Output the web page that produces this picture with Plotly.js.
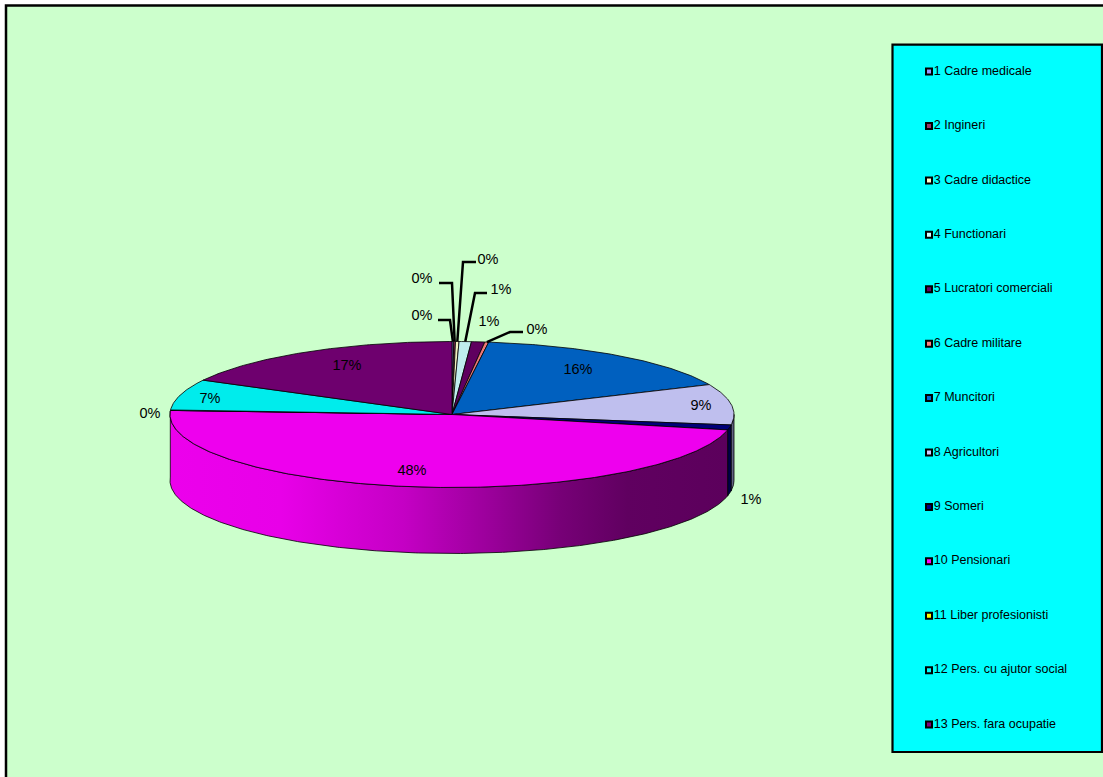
<!DOCTYPE html>
<html>
<head>
<meta charset="utf-8">
<script src="https://cdn.plot.ly/plotly-3.0.1.min.js"></script>
<style>html,body{margin:0;padding:0;background:#fff;overflow:hidden}#chart{width:1103px;height:777px}</style>
</head>
<body>
<div id="chart"></div>
<script>
// ---- data (percent of total) ----
const categories = ["1 Cadre medicale","2 Ingineri","3 Cadre didactice","4 Functionari","5 Lucratori comerciali","6 Cadre militare","7 Muncitori","8 Agricultori","9 Someri","10 Pensionari","11 Liber profesionisti","12 Pers. cu ajutor social","13 Pers. fara ocupatie"];
const values = [0.1,0.1,0.2,0.7,0.76,0.22,16.2,9.0,1.1,47.5,0.1,6.8,17.2];

// ---- styles ----
const topColors = ["#8C8CEB","#8C2E5C","#F0F0BE","#BFEEEE","#5F005F","#EE7878","#0060BF","#BFBFEE","#000078","#EE00EE","#EEEE00","#00ECEC","#6E006E"];
const swatchColors = ["#9999FF","#993366","#FFFFCC","#CCFFFF","#660066","#FF8080","#0066CC","#CCCCFF","#000080","#FF00FF","#FFFF00","#00FFFF","#800080"];
const wallColors = {7:[[0,"#6A6A8A"],[1,"#5A5A7A"]],8:[[0,"#000048"],[1,"#000048"]],
  9:[[0,"#EC00EC"],[0.2,"#E800E8"],[0.42,"#C400C4"],[0.58,"#990099"],[0.7,"#770077"],[0.82,"#600060"],[1,"#5C005C"]]};

// ---- layout geometry (pixels of the 1103x777 page) ----
const W=1103,H=777,cx=452,cy=414.5,rx=282,ry=73,depth=66;
const X=p=>(p-cx)/rx, Y=p=>(cy-p)/ry;
const labelPx=[[422,316],[422,279],[488,260],[501,290],[489,322],[537,330],[578,370],[701,406],[751,500],[412,471],[150,414],[210,399],[347,366]];
const leaderPx={0:[[450,320],[438,320]],1:[[452,283],[439,283]],2:[[463,262],[476,262]],3:[[475,293],[487,293]],5:[[510,332],[523,332]]};

const total=values.reduce((a,b)=>a+b,0);
const traces=[];
function arc(t0,t1){const n=Math.max(2,Math.ceil((t1-t0)/0.01));const a=[];for(let i=0;i<=n;i++)a.push(t0+(t1-t0)*i/n);return a;}
let cum=0;const spans=values.map(v=>{const s=[cum,cum+v/total*2*Math.PI];cum=s[1];return s;});

// side wall
spans.forEach((s,i)=>{
  const t0=Math.max(s[0],Math.PI/2),t1=Math.min(s[1],Math.PI*1.515);
  if(t1<=t0||!wallColors[i])return;
  const a=arc(t0,t1),r=a.slice().reverse();
  const dz=depth/ry;
  traces.push({x:a.map(Math.sin).concat(r.map(Math.sin),[Math.sin(t0)]),
    y:a.map(Math.cos).concat(r.map(t=>Math.cos(t)-dz),[Math.cos(t0)]),
    mode:"lines",fill:"toself",line:{color:"#000",width:0.8},
    fillgradient:{type:"horizontal",colorscale:wallColors[i]},name:categories[i]+" (side)",showlegend:false,hoverinfo:"skip"});
});
// top faces
spans.forEach((s,i)=>{
  const a=arc(s[0],s[1]);
  traces.push({x:[0].concat(a.map(Math.sin),[0]),y:[0].concat(a.map(Math.cos),[0]),
    mode:"lines",fill:"toself",fillcolor:topColors[i],line:{color:"#000",width:0.8},name:categories[i],showlegend:false,hoverinfo:"skip"});
});
// leader lines
Object.keys(leaderPx).forEach(k=>{
  const i=+k,m=(spans[i][0]+spans[i][1])/2,p=leaderPx[k];
  traces.push({x:[Math.sin(m),X(p[0][0]),X(p[1][0])],y:[Math.cos(m),Y(p[0][1]),Y(p[1][1])],mode:"lines",line:{color:"#000",width:2.5},showlegend:false,hoverinfo:"skip"});
});
// percent labels
traces.push({x:labelPx.map(p=>X(p[0])),y:labelPx.map(p=>Y(p[1])),mode:"text",
  text:values.map(v=>Math.round(v/total*100)+"%"),textposition:"middle center",
  textfont:{family:"Liberation Sans, Arial, sans-serif",size:14.5,color:"#000"},showlegend:false,hoverinfo:"skip",cliponaxis:false});
// legend rows on a category axis
traces.push({x:categories.map(()=>37),y:categories,xaxis:"x2",yaxis:"y2",mode:"markers+text",
  marker:{symbol:"square",size:6,color:swatchColors,line:{color:"#000",width:2}},
  text:categories,textposition:"middle right",textfont:{family:"Liberation Sans, Arial, sans-serif",size:12.5,color:"#000"},
  showlegend:false,hoverinfo:"skip",cliponaxis:false});

const layout={
  width:W,height:H,margin:{l:0,r:0,t:0,b:0,pad:0},paper_bgcolor:"#fff",plot_bgcolor:"rgba(0,0,0,0)",showlegend:false,hovermode:false,
  xaxis:{range:[X(0),X(W)],domain:[0,1],visible:false,fixedrange:true},
  yaxis:{range:[Y(H),Y(0)],domain:[0,1],visible:false,fixedrange:true},
  xaxis2:{range:[0,210],domain:[892/W,1102/W],anchor:"y2",visible:false,fixedrange:true},
  yaxis2:{type:"category",categoryorder:"array",categoryarray:categories,range:[12.5,-0.5],domain:[1-751.8/H,1-44.4/H],anchor:"x2",visible:false,fixedrange:true},
  shapes:[
    {type:"rect",xref:"paper",yref:"paper",x0:6/W,x1:1110/W,y0:1-785/H,y1:1-5.6/H,fillcolor:"#CCFFCC",line:{color:"#000",width:2.5},layer:"below"},
    {type:"rect",xref:"paper",yref:"paper",x0:892.5/W,x1:1102/W,y0:1-752/H,y1:1-44.6/H,fillcolor:"#00FFFF",line:{color:"#000",width:2.2},layer:"below"}
  ]
};
Plotly.newPlot("chart",traces,layout,{displayModeBar:false,staticPlot:true});
</script>
</body>
</html>
